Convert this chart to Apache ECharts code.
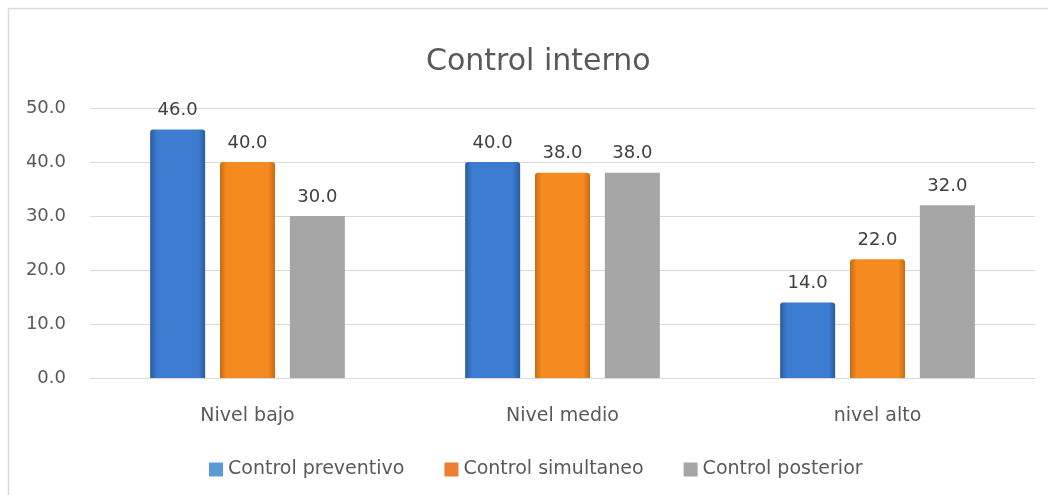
<!DOCTYPE html>
<html><head><meta charset="utf-8">
<script src="https://cdn.jsdelivr.net/npm/echarts@6/dist/echarts.min.js"></script>
<style>html,body{margin:0;padding:0;background:#fff}#c{width:1048px;height:495px}</style>
</head><body><div id="c"></div>
<script>
const categories = ['Nivel bajo', 'Nivel medio', 'nivel alto'];
const preventivo = [46.0, 40.0, 14.0];
const simultaneo = [40.0, 38.0, 22.0];
const posterior = [30.0, 38.0, 32.0];
const seriesNames = ['Control preventivo', 'Control simultaneo', 'Control posterior'];

const FONT = 'DejaVu Sans';
function grad(edge, mid) {
  return new echarts.graphic.LinearGradient(0, 0, 1, 0, [
    {offset: 0, color: edge}, {offset: 0.12, color: mid}, {offset: 0.88, color: mid}, {offset: 1, color: edge}
  ]);
}
const chart = echarts.init(document.getElementById('c'));
const lbl = {show: true, position: 'top', distance: 10, formatter: p => p.value.toFixed(1), color: '#404040', fontSize: 18, fontFamily: FONT};
chart.setOption({
  animation: false,
  title: {text: 'Control interno', left: 421, top: 42, textStyle: {fontFamily: FONT, fontSize: 30, fontWeight: 'normal', color: '#595959'}},
  grid: {left: 90, right: 13, top: 108, bottom: 117},
  legend: {top: 455, left: 204, itemWidth: 14, itemHeight: 14, itemGap: 40, icon: 'rect',
    textStyle: {fontFamily: FONT, fontSize: 19, color: '#595959'},
    data: [
      {name: seriesNames[0], itemStyle: {color: '#5b9bd5'}},
      {name: seriesNames[1], itemStyle: {color: '#ed7d31'}},
      {name: seriesNames[2], itemStyle: {color: '#a5a5a5'}}
    ]},
  xAxis: {type: 'category', data: categories,
    axisLine: {lineStyle: {color: '#d9d9d9'}}, axisTick: {show: false},
    axisLabel: {fontFamily: FONT, fontSize: 19, color: '#595959', margin: 29}},
  yAxis: {type: 'value', min: 0, max: 50, interval: 10,
    axisLabel: {fontFamily: FONT, fontSize: 18, color: '#595959', formatter: v => v.toFixed(1), margin: 24},
    splitLine: {lineStyle: {color: '#d9d9d9'}}, axisLine: {show: false}, axisTick: {show: false}},
  series: [
    {name: seriesNames[0], type: 'bar', data: preventivo, barWidth: 55, barGap: '27%',
      itemStyle: {color: grad('#2a5b9c', '#3b7bd0'), borderRadius: [3,3,0,0]}, label: lbl},
    {name: seriesNames[1], type: 'bar', data: simultaneo, barWidth: 55,
      itemStyle: {color: grad('#c96a10', '#f58b1f'), borderRadius: [3,3,0,0]}, label: lbl},
    {name: seriesNames[2], type: 'bar', data: posterior, barWidth: 55,
      itemStyle: {color: '#a5a5a5'}, label: lbl}
  ],
  graphic: [{type: 'rect', silent: true, shape: {x: 8.5, y: 8.5, width: 1100, height: 600}, style: {fill: 'none', stroke: '#d9d9d9', lineWidth: 1.5}}]
});
</script></body></html>
